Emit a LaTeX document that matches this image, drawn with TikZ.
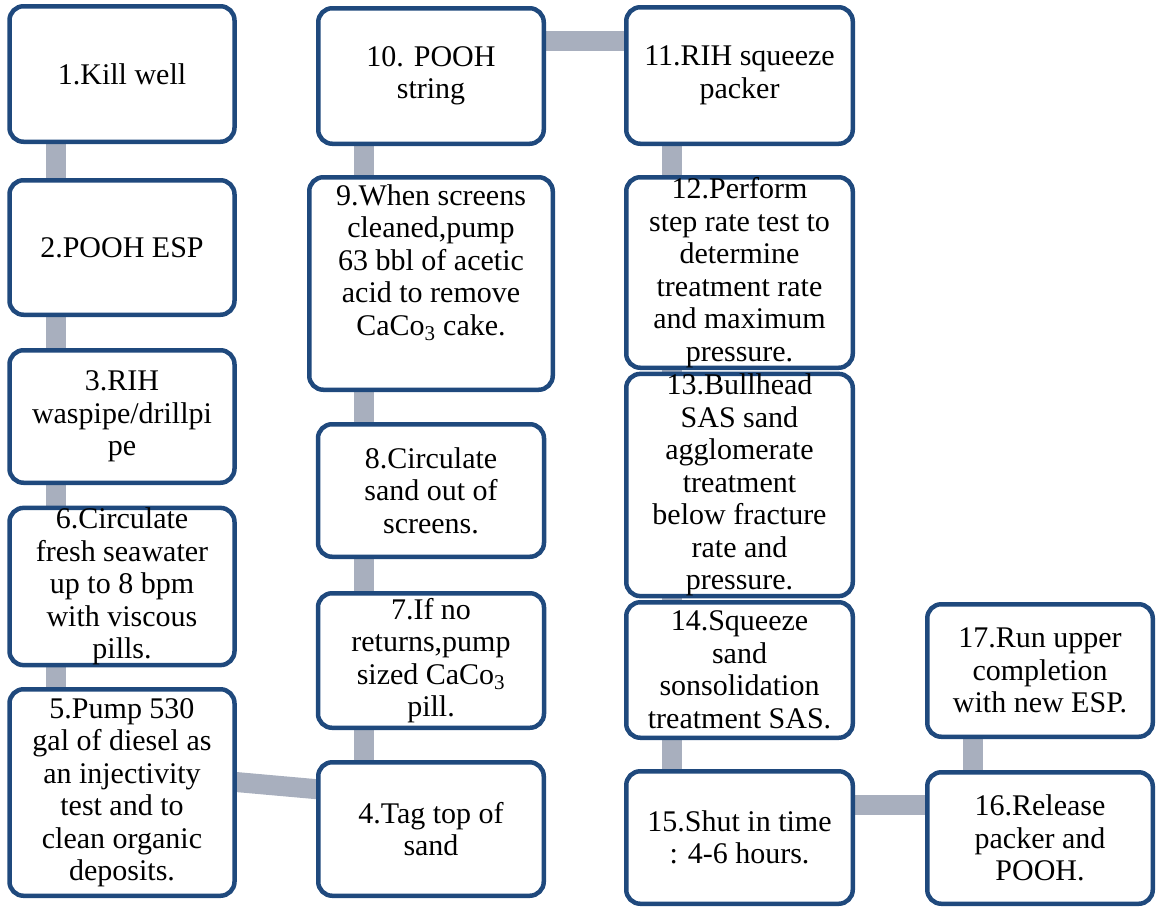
\documentclass[tikz,border=0pt]{standalone}
\usepackage{fontspec}
\setmainfont{Liberation Serif}
\newfontfamily\boxfont{Liberation Serif}
\definecolor{boxblue}{RGB}{31,73,125}
\definecolor{conngray}{RGB}{168,175,190}
\pgfdeclarelayer{bg}
\pgfsetlayers{bg,main}
\begin{document}
\begin{tikzpicture}[x=1pt,y=-1pt,
  stepbox/.style={draw=boxblue,line width=4.5pt,fill=white,rounded corners=14pt,
    align=center,inner sep=0pt,font={\boxfont\fontsize{30}{32.5}\selectfont},text=black},
  conn/.style={draw=conngray,line width=20pt}]
\useasboundingbox (0,0) rectangle (1156,908);
% column 1
\node[stepbox,minimum width=225pt,minimum height=135.5pt] (b1) at (122,74) {1.Kill well};
\node[stepbox,minimum width=225pt,minimum height=134.5pt] (b2) at (122,247.5) {2.POOH ESP};
\node[stepbox,minimum width=225pt,minimum height=132.5pt] (b3) at (122,416.5) {3.RIH\\waspipe/drillpi\\pe};
\node[stepbox,minimum width=225pt,minimum height=134.5pt] (b6) at (122,586.5) {6.Circulate\\fresh seawater\\up to 8 bpm\\with viscous\\pills.};
\node[stepbox,minimum width=225pt,minimum height=206.5pt] (b5) at (122,792.5) {5.Pump 530\\gal of diesel as\\an injectivity\\test and to\\clean organic\\deposits.};
% column 2
\node[stepbox,minimum width=225.5pt,minimum height=135.5pt] (b10) at (431,76) {10. POOH\\string};
\node[stepbox,minimum width=243.5pt,minimum height=212.5pt,text depth=47pt] (b9) at (431,283.5) {9.When screens\\cleaned,pump\\63 bbl of acetic\\acid to remove\\CaCo\textsubscript{3} cake.};
\node[stepbox,minimum width=226pt,minimum height=132.5pt] (b8) at (431,490.5) {8.Circulate\\sand out of\\screens.};
\node[stepbox,minimum width=226pt,minimum height=134.5pt] (b7) at (431,660.5) {7.If no\\returns,pump\\sized CaCo\textsubscript{3}\\pill.};
\node[stepbox,minimum width=225.5pt,minimum height=133.5pt] (b4) at (431,829) {4.Tag top of\\sand};
% column 3
\node[stepbox,minimum width=226.5pt,minimum height=136.5pt] (b11) at (739.5,75.5) {11.RIH squeeze\\packer};
\node[stepbox,minimum width=226.5pt,minimum height=190.5pt] (b12) at (739.5,272.5) {12.Perform\\step rate test to\\determine\\treatment rate\\and maximum\\pressure.};
\node[stepbox,minimum width=226.5pt,minimum height=165.5pt] (b13) at (739.5,485) {13.Bullhead\\SAS sand\\agglomerate\\treatment\\below fracture\\rate and\\pressure.};
\node[stepbox,minimum width=226.5pt,minimum height=135.5pt] (b14) at (739.5,670) {14.Squeeze\\sand\\sonsolidation\\treatment SAS.};
\node[stepbox,minimum width=226.5pt,minimum height=132.5pt] (b15) at (739.5,837.5) {15.Shut in time\\: 4-6 hours.};
% column 4
\node[stepbox,minimum width=225.5pt,minimum height=132.5pt] (b17) at (1040,670.5) {17.Run upper\\completion\\with new ESP.};
\node[stepbox,minimum width=225.5pt,minimum height=131.5pt] (b16) at (1040,838) {16.Release\\packer and\\POOH.};
% connectors
\begin{pgfonlayer}{bg}
\draw[conn] ([xshift=-66pt]b1.south) -- ([xshift=-66pt]b2.north);
\draw[conn] ([xshift=-66pt]b2.south) -- ([xshift=-66pt]b3.north);
\draw[conn] ([xshift=-66pt]b3.south) -- ([xshift=-66pt]b6.north);
\draw[conn] ([xshift=-66pt]b6.south) -- ([xshift=-66pt]b5.north);
\draw[conn] ([xshift=-30pt,yshift=13.1pt]b5.east) -- ([xshift=30pt,yshift=37.2pt]b4.west);
\draw[conn] ([xshift=-67pt]b4.north) -- ([xshift=-67pt]b7.south);
\draw[conn] ([xshift=-67pt]b7.north) -- ([xshift=-67pt]b8.south);
\draw[conn] ([xshift=-67pt]b8.north) -- ([xshift=-67pt]b9.south);
\draw[conn] ([xshift=-67pt]b9.north) -- ([xshift=-67pt]b10.south);
\draw[conn] ([yshift=35pt]b10.east) -- ([yshift=34.5pt]b11.west);
\draw[conn] ([xshift=-67.5pt]b11.south) -- ([xshift=-67.5pt]b12.north);
\draw[conn] ([xshift=-67.5pt]b12.south) -- ([xshift=-67.5pt]b13.north);
\draw[conn] ([xshift=-67.5pt]b13.south) -- ([xshift=-67.5pt]b14.north);
\draw[conn] ([xshift=-67.5pt]b14.south) -- ([xshift=-67.5pt]b15.north);
\draw[conn] ([yshift=32.5pt]b15.east) -- ([yshift=33pt]b16.west);
\draw[conn] ([xshift=-67pt]b16.north) -- ([xshift=-67pt]b17.south);
\end{pgfonlayer}
\end{tikzpicture}
\end{document}
